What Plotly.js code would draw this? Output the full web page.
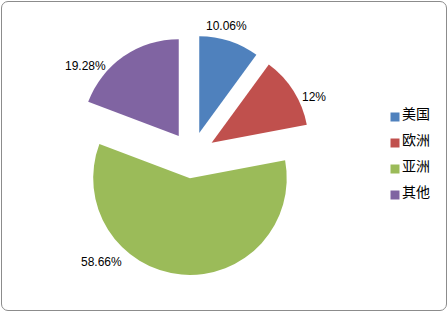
<!DOCTYPE html>
<html><head><meta charset="utf-8">
<script src="https://cdn.plot.ly/plotly-3.0.1.min.js"></script>
<style>
html,body{margin:0;padding:0;background:#fff;}
#wrap{position:relative;width:448px;height:312px;}
#chart{position:absolute;left:0;top:0;width:448px;height:312px;}
#frame{position:absolute;left:1px;top:1px;width:444px;height:308px;border:1px solid #8c8c8c;border-radius:7px;pointer-events:none;}
</style></head>
<body>
<div id="wrap"><div id="chart"></div><div id="frame"></div></div>
<script>
const categories = ["美国", "欧洲", "亚洲", "其他"];
const values = [10.06, 12, 58.66, 19.28];
const colors = ["#4f81bd", "#c0504d", "#9bbb59", "#8064a2"];
// label anchor positions (pixels) for the percentage labels
const labelPos = [[226, 26], [314, 97], [101, 262], [85, 66]];

const trace = {
  type: "pie",
  labels: categories,
  values: values,
  sort: false,
  direction: "clockwise",
  rotation: 0,
  pull: [0.24, 0.24, 0.24, 0.24],
  marker: {colors: colors, line: {width: 0}},
  textinfo: "none",
  hoverinfo: "none",
  domain: {x: [72/448, 312/448], y: [1 - 275/312, 1 - 35/312]}
};

const annotations = values.map((v, i) => ({
  xref: "paper", yref: "paper",
  x: labelPos[i][0] / 448, y: 1 - labelPos[i][1] / 312,
  xanchor: "center", yanchor: "middle",
  text: v + "%", showarrow: false,
  font: {family: "Liberation Sans, Arial, sans-serif", size: 12, color: "#000"}
}));

const layout = {
  width: 448, height: 312,
  margin: {l: 0, r: 0, t: 0, b: 0, autoexpand: false},
  paper_bgcolor: "rgba(0,0,0,0)",
  plot_bgcolor: "rgba(0,0,0,0)",
  showlegend: true,
  annotations: annotations,
  legend: {
    x: 0.8, y: 0.5, xanchor: "left", yanchor: "middle",
    font: {family: "Noto Sans CJK SC, sans-serif", size: 14, color: "#000"},
    itemclick: false, itemdoubleclick: false
  }
};

Plotly.newPlot("chart", [trace], layout, {displayModeBar: false, staticPlot: true}).then(gd => {
  const leg = gd.querySelector(".legend");
  if (!leg) return;
  leg.setAttribute("transform", "translate(375,0)");
  const sb = leg.querySelector(".scrollbox");
  if (sb) { sb.removeAttribute("clip-path"); sb.setAttribute("transform", "translate(0,0)"); }
  const bg = leg.querySelector(".bg");
  if (bg) bg.style.display = "none";
  const items = leg.querySelectorAll(".traces");
  const ys = [114, 140, 166, 192];
  items.forEach((g, i) => {
    g.setAttribute("transform", "translate(0," + ys[i] + ")");
    const p = g.querySelector("path.legendpie");
    if (p) p.setAttribute("transform", "translate(20,3) scale(0.75)");
    const t = g.querySelector("text.legendtext");
    if (t) t.setAttribute("x", "27");
  });
});
</script>
</body></html>
